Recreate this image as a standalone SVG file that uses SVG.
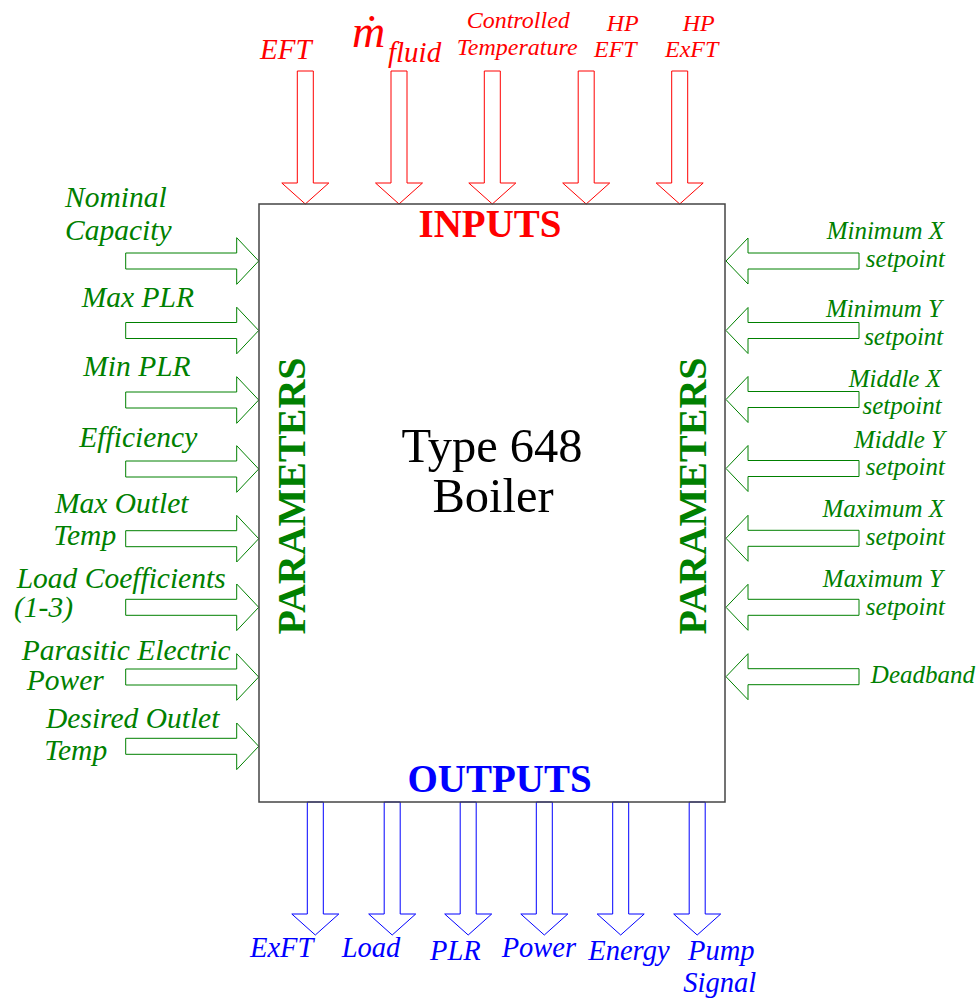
<svg xmlns="http://www.w3.org/2000/svg" xmlns:xlink="http://www.w3.org/1999/xlink" width="979" height="1001" viewBox="0 0 979 1001">
<style>
text{font-family:"Liberation Serif","Times New Roman",serif}
.it{font-style:italic}
.bd{font-weight:bold}
.red{fill:#ff0000}
.grn{fill:#008000}
.blu{fill:#0000ff}
.ar{fill:#ffffff;stroke:#ff0000;stroke-width:1}
.ag{fill:#ffffff;stroke:#008000;stroke-width:1}
.ab{fill:#ffffff;stroke:#0000ff;stroke-width:1}
.lab{font-size:29.5px}
.rlab{font-size:25px;text-anchor:end}
.olab{font-size:28.5px}
</style>
<defs>
<path id="arrDown" d="M-8,0 V112 H-23.5 L0,133 L23.5,112 H8 V0 Z"/>
<path id="arrRight" d="M0,-8 H111 V-23.3 L133,0 L111,23.3 V8 H0 Z"/>
<path id="arrLeft" d="M0,0 L22,-23 V-8 H133 V8 H22 V23 Z"/>
</defs>
<rect width="979" height="1001" fill="#ffffff"/>

<g id="connectors">
<g id="input-arrows" class="ar">
<use xlink:href="#arrDown" href="#arrDown" x="305.3" y="71"/>
<use xlink:href="#arrDown" href="#arrDown" x="399" y="71"/>
<use xlink:href="#arrDown" href="#arrDown" x="492.3" y="71"/>
<use xlink:href="#arrDown" href="#arrDown" x="586.2" y="71"/>
<use xlink:href="#arrDown" href="#arrDown" x="679.7" y="71"/>
</g>
<g id="left-param-arrows" class="ag">
<use xlink:href="#arrRight" href="#arrRight" x="125.7" y="261"/>
<use xlink:href="#arrRight" href="#arrRight" x="125.7" y="330.5"/>
<use xlink:href="#arrRight" href="#arrRight" x="125.7" y="400"/>
<use xlink:href="#arrRight" href="#arrRight" x="125.7" y="469"/>
<use xlink:href="#arrRight" href="#arrRight" x="125.7" y="538.7"/>
<use xlink:href="#arrRight" href="#arrRight" x="125.7" y="607.3"/>
<use xlink:href="#arrRight" href="#arrRight" x="125.7" y="677"/>
<use xlink:href="#arrRight" href="#arrRight" x="125.7" y="746.3"/>
</g>
<g id="right-param-arrows" class="ag">
<use xlink:href="#arrLeft" href="#arrLeft" x="726" y="261"/>
<use xlink:href="#arrLeft" href="#arrLeft" x="726" y="330.5"/>
<use xlink:href="#arrLeft" href="#arrLeft" x="726" y="399.5"/>
<use xlink:href="#arrLeft" href="#arrLeft" x="726" y="468.5"/>
<use xlink:href="#arrLeft" href="#arrLeft" x="726" y="538.3"/>
<use xlink:href="#arrLeft" href="#arrLeft" x="726" y="607.3"/>
<use xlink:href="#arrLeft" href="#arrLeft" x="726" y="676.7"/>
</g>
<g id="output-arrows" class="ab">
<use xlink:href="#arrDown" href="#arrDown" x="315.3" y="802"/>
<use xlink:href="#arrDown" href="#arrDown" x="392.2" y="802"/>
<use xlink:href="#arrDown" href="#arrDown" x="468.2" y="802"/>
<use xlink:href="#arrDown" href="#arrDown" x="544.3" y="802"/>
<use xlink:href="#arrDown" href="#arrDown" x="620.7" y="802"/>
<use xlink:href="#arrDown" href="#arrDown" x="697.2" y="802"/>
</g>
</g>

<g id="boiler">
<rect x="259" y="204" width="466" height="598" fill="none" stroke="#444444" stroke-width="1.5"/>
<text x="490" y="237" class="bd red" font-size="39" text-anchor="middle">INPUTS</text>
<text x="499.5" y="792" class="bd blu" font-size="39" text-anchor="middle">OUTPUTS</text>
<text x="492" y="462" font-size="48.5" text-anchor="middle" fill="#000000">Type 648</text>
<text x="493" y="512" font-size="48.5" text-anchor="middle" fill="#000000">Boiler</text>
<text transform="translate(305,496) rotate(-90)" class="bd grn" font-size="40" text-anchor="middle">PARAMETERS</text>
<text transform="translate(706,496) rotate(-90)" class="bd grn" font-size="40" text-anchor="middle">PARAMETERS</text>
</g>

<g id="inputs" class="it red">
<text x="260" y="59" font-size="29">EFT</text>
<text x="352" y="47" font-size="46">ṁ</text>
<text x="388" y="62" font-size="29">fluid</text>
<text x="466.7" y="28" font-size="24">Controlled</text>
<text x="456.7" y="55" font-size="24">Temperature</text>
<text x="606.7" y="31" font-size="24">HP</text>
<text x="594" y="57" font-size="24">EFT</text>
<text x="682.7" y="31" font-size="24">HP</text>
<text x="665" y="57" font-size="24">ExFT</text>
</g>

<g id="left-parameters" class="it grn lab">
<text x="65" y="207">Nominal</text>
<text x="65" y="240">Capacity</text>
<text x="81.7" y="307">Max PLR</text>
<text x="83.3" y="376">Min PLR</text>
<text x="79.3" y="446.7">Efficiency</text>
<text x="55" y="512.7">Max Outlet</text>
<text x="53.3" y="545">Temp</text>
<text x="16.7" y="588.3">Load Coefficients</text>
<text x="14" y="617">(1-3)</text>
<text x="21.7" y="659.5">Parasitic Electric</text>
<text x="26.7" y="690">Power</text>
<text x="46" y="727.7">Desired Outlet</text>
<text x="44.3" y="760">Temp</text>
</g>

<g id="right-parameters" class="it grn rlab">
<text x="944" y="239.3">Minimum X</text>
<text x="945" y="267.3">setpoint</text>
<text x="942" y="317.3">Minimum Y</text>
<text x="943.3" y="345">setpoint</text>
<text x="941" y="387.3">Middle X</text>
<text x="941.7" y="414">setpoint</text>
<text x="945" y="448.3">Middle Y</text>
<text x="945" y="475">setpoint</text>
<text x="944" y="517.3">Maximum X</text>
<text x="945" y="545">setpoint</text>
<text x="943" y="586.7">Maximum Y</text>
<text x="945" y="615">setpoint</text>
<text x="975" y="682.7">Deadband</text>
</g>

<g id="outputs" class="it blu olab">
<text x="250" y="957">ExFT</text>
<text x="341.7" y="957">Load</text>
<text x="430" y="960">PLR</text>
<text x="501.7" y="956.7">Power</text>
<text x="588.3" y="960">Energy</text>
<text x="688" y="960">Pump</text>
<text x="683.3" y="991.7">Signal</text>
</g>
</svg>
